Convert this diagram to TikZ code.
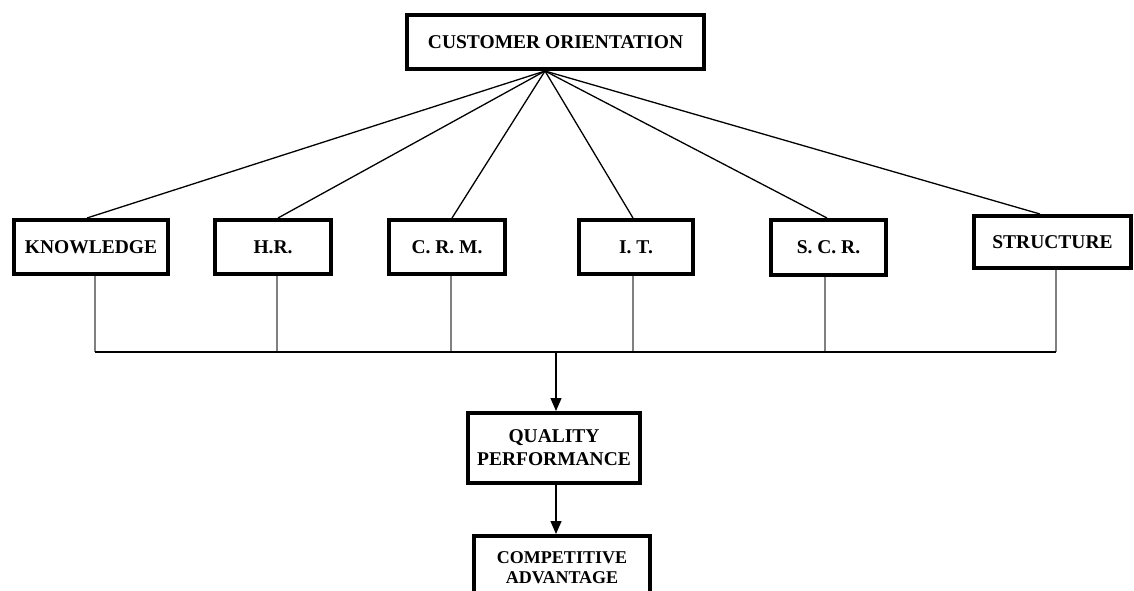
\documentclass[tikz,border=0pt]{standalone}
\usepackage{fontspec}
\setmainfont{Liberation Serif}
\usetikzlibrary{arrows.meta}
\tikzset{
  box/.style={draw=black, line width=4pt, fill=white, inner sep=0pt, align=center,
              font=\bfseries\fontsize{19.5}{23}\selectfont},
  fan/.style={draw=black, line width=1.3pt},
  vline/.style={draw=black!50, line width=1.6pt},
  bus/.style={draw=black, line width=1.3pt},
  arr/.style={draw=black, line width=1.3pt, -{Triangle[length=13pt,width=11pt]}}
}
\begin{document}
\begin{tikzpicture}[x=1pt,y=-1pt]
\clip (0,0) rectangle (1134,590);
\fill[white] (0,0) rectangle (1134,590);
% nodes
\node[box, minimum width=297pt, minimum height=54pt] (co) at (555.5,42) {CUSTOMER ORIENTATION};
\node[box, minimum width=154pt, minimum height=54pt] (k) at (91,247) {KNOWLEDGE};
\node[box, minimum width=116pt, minimum height=54pt] (hr) at (273,247) {H.R.};
\node[box, minimum width=116pt, minimum height=54pt] (crm) at (447,247) {C. R. M.};
\node[box, minimum width=114pt, minimum height=54pt] (it) at (636,247) {I. T.};
\node[box, minimum width=115pt, minimum height=55pt] (scr) at (828.5,247.5) {S. C. R.};
\node[box, minimum width=157pt, minimum height=52pt] (st) at (1052.5,242) {STRUCTURE};
\node[box, minimum width=172pt, minimum height=70pt] (qp) at (554,448) {QUALITY\\PERFORMANCE};
\node[box, minimum width=176pt, minimum height=64pt, font=\bfseries\fontsize{18}{20}\selectfont] (ca) at (562,568) {COMPETITIVE\\ADVANTAGE};
% fan from top
\coordinate (apex) at (545,71);
\draw[fan] (apex) -- ([xshift=-4pt]k.north);
\draw[fan] (apex) -- ([xshift=5pt]hr.north);
\draw[fan] (apex) -- ([xshift=5pt]crm.north);
\draw[fan] (apex) -- ([xshift=-3pt]it.north);
\draw[fan] (apex) -- ([xshift=-1.5pt]scr.north);
\draw[fan] (apex) -- ([xshift=-12.5pt]st.north);
% bus
\coordinate (busL) at (95,352);
\coordinate (busR) at (1056,352);
\coordinate (busM) at (556,352);
\draw[vline] ([xshift=4pt]k.south) -- ([xshift=4pt]k.south |- busL);
\draw[vline] ([xshift=4pt]hr.south) -- ([xshift=4pt]hr.south |- busL);
\draw[vline] ([xshift=4pt]crm.south) -- ([xshift=4pt]crm.south |- busL);
\draw[vline] ([xshift=-3pt]it.south) -- ([xshift=-3pt]it.south |- busL);
\draw[vline] ([xshift=-3.5pt]scr.south) -- ([xshift=-3.5pt]scr.south |- busL);
\draw[vline] ([xshift=3.5pt]st.south) -- ([xshift=3.5pt]st.south |- busL);
\draw[bus] (busL) -- (busR);
\draw[arr] (busM) -- (busM |- qp.north);
\draw[arr] (busM |- qp.south) -- (busM |- ca.north);
\end{tikzpicture}
\end{document}
